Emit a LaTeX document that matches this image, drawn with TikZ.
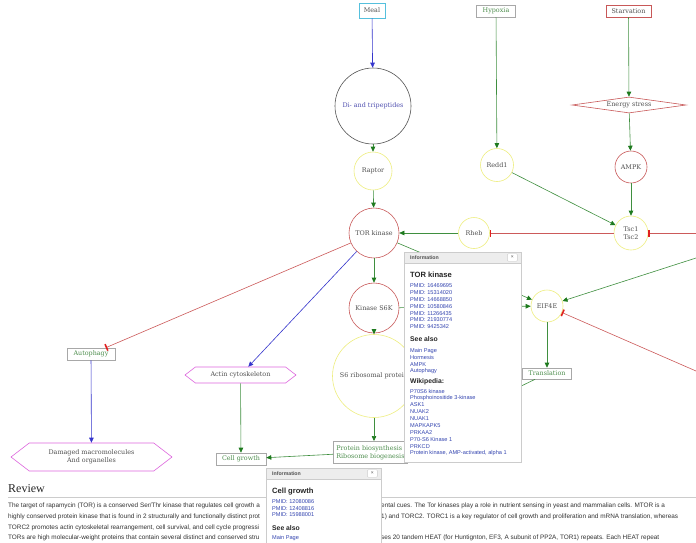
\documentclass[tikz,border=0pt]{standalone}
\usepackage{fontspec}
\setmainfont{Liberation Sans}
\newfontfamily\nodefont{DejaVu Serif}
\newfontfamily\headfont{Liberation Serif}
\usetikzlibrary{arrows.meta,shapes.geometric,shapes.symbols}
\definecolor{actgreen}{HTML}{3F8F3F}
\definecolor{tipgreen}{HTML}{1E7A1E}
\definecolor{inhred}{HTML}{CC5A5A}
\definecolor{barred}{HTML}{E02020}
\definecolor{actblue}{HTML}{3535CC}
\definecolor{ringred}{HTML}{C85858}
\definecolor{ringyel}{HTML}{EEEE80}
\definecolor{ringdark}{HTML}{555555}
\definecolor{boxgrey}{HTML}{A8A8A8}
\definecolor{boxcyan}{HTML}{55C0DD}
\definecolor{hexpink}{HTML}{DD66DD}
\definecolor{txtdark}{HTML}{505050}
\definecolor{txtgreen}{HTML}{4E8E4E}
\definecolor{txtblue}{HTML}{5050B0}
\definecolor{linkblue}{HTML}{3445B0}
\definecolor{popline}{HTML}{CCCCCC}
\definecolor{pophead}{HTML}{EDEDED}
\definecolor{bodytxt}{HTML}{333333}
\tikzset{
  lbl/.style={font=\nodefont\fontsize{6.4}{8}\selectfont, text=txtdark, inner sep=1.5pt, line width=0.6pt},
  gbox/.style={lbl, rectangle, draw=boxgrey, minimum height=12pt, inner xsep=3pt},
  ring/.style={lbl, circle, draw, inner sep=0pt},
  hexa/.style={lbl, signal, signal to=east and west, signal pointer angle=75, draw=hexpink, minimum height=16pt},
  act/.style={actgreen, line width=0.6pt, -{Triangle[length=5pt,width=4.5pt,color=tipgreen]}},
  blu/.style={actblue, line width=0.6pt, -{Triangle[length=5pt,width=4.5pt]}},
  inh/.style={inhred, line width=0.6pt, -{Bar[width=7pt,line width=1.6pt,color=barred]}},
  popup/.style={rectangle, draw=popline, fill=white, inner sep=0pt, anchor=north west},
  pophd/.style={rectangle, draw=popline, fill=pophead, inner sep=0pt, anchor=north west, minimum height=10.5pt},
  hdtxt/.style={font=\bfseries\fontsize{5.2}{6}\selectfont, text=txtdark, inner sep=0pt, anchor=west},
  closebtn/.style={draw=popline, fill=white, rounded corners=1pt, minimum width=10pt, minimum height=7.5pt, inner sep=0pt, font=\fontsize{5}{5}\selectfont, text=txtdark},
  poptitle/.style={font=\bfseries\fontsize{7.6}{8}\selectfont, text=black!85, inner sep=0pt, anchor=west},
  popsec/.style={font=\bfseries\fontsize{6.8}{8}\selectfont, text=black!85, inner sep=0pt, anchor=west},
  plink/.style={font=\fontsize{5.6}{6}\selectfont, text=linkblue, inner sep=0pt, anchor=west},
  body/.style={font=\fontsize{6.4}{7}\selectfont, text=bodytxt, inner sep=0pt, anchor=west}
}
\begin{document}
\begin{tikzpicture}[x=1pt, y=-1pt]
  \useasboundingbox (0,0) rectangle (696,542);
  \clip (0,0) rectangle (696,542);
  \fill[white] (0,0) rectangle (696,542);

  \node[gbox, draw=boxcyan, minimum width=26pt, minimum height=15pt] (meal) at (372,10.5) {Meal};
  \node[gbox, text=txtgreen, minimum width=39pt] (hypoxia) at (496,11) {Hypoxia};
  \node[gbox, draw=ringred, minimum width=45pt] (starv) at (628.5,11) {Starvation};
  \node[ring, draw=ringdark, text=txtblue, minimum size=76pt] (dipep) at (373,106) {Di- and tripeptides};
  \node[ring, draw=ringyel, minimum size=38pt] (raptor) at (373,171) {Raptor};
  \node[ring, draw=ringred, minimum size=50pt] (tor) at (374,233) {TOR kinase};
  \node[ring, draw=ringred, minimum size=50pt] (s6k) at (374,308) {Kinase S6K};
  \node[ring, draw=ringyel, minimum size=83pt] (s6) at (374,376) {S6 ribosomal protein};
  \node[ring, draw=ringyel, minimum size=33pt] (redd1) at (497,165) {Redd1};
  \node[lbl, diamond, draw=ringred, aspect=7, inner sep=0pt, minimum width=114pt, minimum height=16pt] (energy) at (629,105) {Energy stress};
  \node[ring, draw=ringred, minimum size=32pt] (ampk) at (631,167) {AMPK};
  \node[ring, draw=ringyel, minimum size=34pt, align=center] (tsc) at (631,233) {Tsc1\\Tsc2};
  \node[ring, draw=ringyel, minimum size=31pt] (rheb) at (474,233) {Rheb};
  \node[ring, draw=ringyel, minimum size=32pt] (eif4e) at (547,306) {EIF4E};
  \node[gbox, text=txtgreen, minimum width=49pt, minimum height=11pt] (transl) at (547,373.5) {Translation};
  \node[gbox, text=txtgreen, minimum width=48pt] (autoph) at (91,354) {Autophagy};
  \node[hexa, minimum width=161pt, minimum height=28pt, align=center] (damaged) at (91.5,457) {Damaged macromolecules\\And organelles};
  \node[hexa, minimum width=111pt] (actin) at (240.5,375) {Actin cytoskeleton};
  \node[gbox, text=txtgreen, minimum width=50pt] (cellg) at (241,459) {Cell growth};
  \node[gbox, text=txtgreen, anchor=north west, align=left, minimum height=22pt] (protein) at (333,441) {Protein biosynthesis\\Ribosome biogenesis};
  \coordinate (rimA) at (696,233);
  \coordinate (rimB) at (696,258);
  \coordinate (rimC) at (696,371);

  \draw[blu] (meal) -- (dipep);
  \draw[act] (dipep) -- (raptor);
  \draw[act] (raptor) -- (tor);
  \draw[act] (hypoxia) -- (redd1);
  \draw[act] (starv) -- (energy);
  \draw[act] (energy) -- (ampk);
  \draw[act] (ampk) -- (tsc);
  \draw[act] (redd1) -- (tsc);
  \draw[inh] (tsc) -- (rheb);
  \draw[inh] (rimA) -- (tsc);
  \draw[act] (rheb) -- (tor);
  \draw[act] (tor) -- (s6k);
  \draw[act] (s6k) -- (s6);
  \draw[act] (s6.south) -- (s6.south |- protein.north);
  \draw[act] (protein) -- (cellg);
  \draw[act] (actin) -- (cellg);
  \draw[inh] (tor) -- (autoph);
  \draw[blu] (tor) -- (actin);
  \draw[blu] (autoph) -- (damaged);
  \draw[act] (tor) -- (eif4e);
  \draw[act] (s6k) -- (eif4e);
  \draw[act] (rimB) -- (eif4e);
  \draw[inh] (rimC) -- (eif4e);
  \draw[act] (eif4e) -- (transl);
  \draw[act] (transl) -- (protein.north east);

  \node[popup, minimum width=117pt, minimum height=210pt] (info1) at (404,252) {};
  \node[pophd, minimum width=117pt] (head1) at (info1.north west) {};
  \node[hdtxt] (ttl1) at ([xshift=6pt]head1.west) {Information};
  \node[closebtn] (cls1) at ([xshift=-9pt]head1.east) {×};
  \node[poptitle] (name1) at (410,275) {TOR kinase};
  \foreach \y/\p in {286/16469695, 292.8/15314020, 299.6/14668850, 306.4/10580846, 313.2/11266435, 320/21930774, 326.8/9425342}
    \node[plink] (pm\p) at (410,\y) {PMID: \p};
  \node[popsec] (see1) at (410,339) {See also};
  \foreach \y/\t [count=\i] in {351/Main Page, 357.6/Hormesis, 364.3/AMPK, 371/Autophagy}
    \node[plink] (seeA\i) at (410,\y) {\t};
  \node[popsec] (wiki1) at (410,382) {Wikipedia:};
  \foreach \y/\t [count=\i] in {391/P70S6 kinase, 397.9/Phosphoinositide 3-kinase, 404.8/ASK1, 411.7/NUAK2, 418.6/NUAK1, 425.5/MAPKAPK5, 432.4/PRKAA2, 439.3/P70-S6 Kinase 1, 446.2/PRKCD, 453.1/{Protein kinase, AMP-activated, alpha 1}}
    \node[plink] (wk\i) at (410,\y) {\t};

  \node[anchor=west, inner sep=0pt, font=\headfont\fontsize{12}{13}\selectfont, text=black!85] (review) at (8,489) {Review};
  \draw[popline] (8,497.5) -- (696,497.5);
  \foreach \y/\t [count=\i] in {506/{The target of rapamycin (TOR) is a conserved Ser/Thr kinase that regulates cell growth a}, 517/{highly conserved protein kinase that is found in 2 structurally and functionally distinct prot}, 528/{TORC2 promotes actin cytoskeletal rearrangement, cell survival, and cell cycle progressi}, 538/{TORs are high molecular-weight proteins that contain several distinct and conserved stru}}
    \node[body] (bl\i) at (8,\y) {\t};
  \foreach \y/\t [count=\i] in {506/{ental cues. The Tor kinases play a role in nutrient sensing in yeast and mammalian cells. MTOR is a}, 517/{1) and TORC2. TORC1 is a key regulator of cell growth and proliferation and mRNA translation, whereas}, 538/{ses 20 tandem HEAT (for Huntignton, EF3, A subunit of PP2A, TOR1) repeats. Each HEAT repeat}}
    \node[body] (br\i) at (381,\y) {\t};

  \node[popup, minimum width=115pt, minimum height=90pt] (info2) at (266,468) {};
  \node[pophd, minimum width=115pt] (head2) at (info2.north west) {};
  \node[hdtxt] (ttl2) at ([xshift=6pt]head2.west) {Information};
  \node[closebtn] (cls2) at ([xshift=-9pt]head2.east) {×};
  \node[poptitle] (name2) at (272,492) {Cell growth};
  \foreach \y/\p in {502/12080086, 508.5/12408816, 515/15988001}
    \node[plink] (pm\p) at (272,\y) {PMID: \p};
  \node[popsec] (see2) at (272,528) {See also};
  \node[plink] (seeB1) at (272,538.5) {Main Page};
\end{tikzpicture}
\end{document}
